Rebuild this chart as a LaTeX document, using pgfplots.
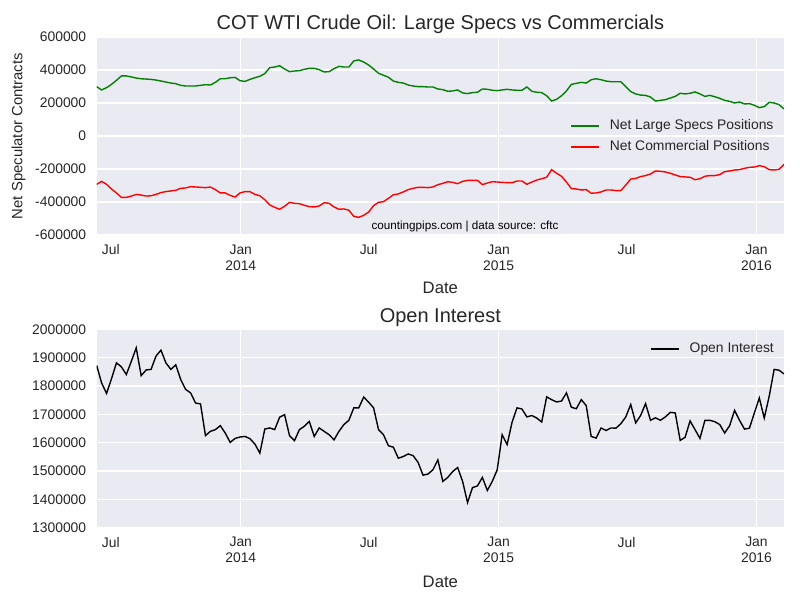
\documentclass[border=0pt]{standalone}
\usepackage{pgfplots}
\pgfplotsset{compat=1.18}
\usepackage{pgfplotstable}
\usepackage{fontspec}
\setmainfont{Liberation Sans}
\definecolor{sbbg}{RGB}{234,234,242}
\definecolor{sbtext}{RGB}{38,38,38}
\definecolor{mplgreen}{RGB}{0,128,0}

\pgfplotstableread{
w specs comm oi
0 299000 -293000 1873000
1 279000 -275000 1811000
2 293000 -293000 1774000
3 313000 -321000 1826000
4 337000 -345000 1882000
5 364000 -372000 1868000
6 364000 -372000 1841000
7 358000 -364000 1887000
8 351000 -354000 1935000
9 347000 -358000 1837000
10 345000 -364000 1857000
11 343000 -362000 1859000
12 339000 -354000 1906000
13 333000 -343000 1927000
14 327000 -337000 1882000
15 321000 -333000 1859000
16 317000 -329000 1875000
17 307000 -317000 1823000
18 303000 -315000 1788000
19 303000 -307000 1776000
20 303000 -309000 1740000
21 307000 -311000 1737000
22 311000 -313000 1625000
23 309000 -309000 1640000
24 325000 -325000 1646000
25 347000 -345000 1660000
26 347000 -345000 1634000
27 353000 -360000 1601000
28 355000 -370000 1615000
29 335000 -345000 1620000
30 331000 -337000 1622000
31 343000 -337000 1614000
32 353000 -354000 1595000
33 362000 -362000 1563000
34 378000 -386000 1648000
35 414000 -418000 1652000
36 418000 -432000 1646000
37 426000 -444000 1690000
38 406000 -426000 1699000
39 390000 -402000 1625000
40 394000 -408000 1607000
41 396000 -410000 1646000
42 404000 -420000 1658000
43 410000 -428000 1675000
44 410000 -430000 1622000
45 402000 -424000 1652000
46 388000 -404000 1640000
47 390000 -408000 1628000
48 408000 -430000 1610000
49 422000 -444000 1640000
50 418000 -442000 1664000
51 418000 -450000 1679000
52 455000 -487000 1723000
53 461000 -493000 1723000
54 448000 -481000 1761000
55 430000 -461000 1743000
56 406000 -422000 1723000
57 380000 -402000 1646000
58 368000 -398000 1628000
59 356000 -378000 1589000
60 333000 -356000 1584000
61 325000 -351000 1545000
62 321000 -339000 1551000
63 309000 -325000 1560000
64 303000 -317000 1554000
65 299000 -311000 1530000
66 299000 -311000 1485000
67 297000 -313000 1489000
68 297000 -309000 1504000
69 285000 -295000 1539000
70 281000 -287000 1463000
71 271000 -277000 1477000
72 273000 -281000 1498000
73 279000 -289000 1512000
74 261000 -275000 1463000
75 257000 -269000 1388000
76 263000 -269000 1441000
77 265000 -269000 1447000
78 285000 -295000 1477000
79 283000 -285000 1431000
80 277000 -277000 1463000
81 275000 -279000 1504000
82 279000 -281000 1628000
83 283000 -283000 1593000
84 279000 -283000 1672000
85 277000 -273000 1723000
86 277000 -273000 1719000
87 297000 -293000 1691000
88 271000 -279000 1696000
89 265000 -267000 1687000
90 263000 -259000 1673000
91 244000 -250000 1762000
92 212000 -204000 1752000
93 222000 -226000 1744000
94 244000 -244000 1747000
95 273000 -279000 1776000
96 313000 -319000 1725000
97 319000 -321000 1720000
98 325000 -327000 1752000
99 321000 -325000 1731000
100 341000 -347000 1622000
101 347000 -345000 1616000
102 341000 -339000 1652000
103 333000 -327000 1643000
104 329000 -327000 1652000
105 329000 -331000 1651000
106 329000 -331000 1667000
107 299000 -297000 1691000
108 269000 -261000 1735000
109 255000 -257000 1670000
110 248000 -246000 1696000
111 246000 -240000 1738000
112 236000 -230000 1679000
113 212000 -212000 1688000
114 216000 -214000 1679000
115 220000 -218000 1691000
116 230000 -226000 1707000
117 240000 -236000 1705000
118 259000 -246000 1608000
119 255000 -248000 1619000
120 259000 -250000 1677000
121 267000 -265000 1646000
122 255000 -259000 1615000
123 240000 -244000 1679000
124 246000 -240000 1679000
125 238000 -240000 1674000
126 228000 -234000 1664000
127 216000 -216000 1634000
128 210000 -212000 1660000
129 200000 -206000 1714000
130 206000 -204000 1679000
131 194000 -196000 1648000
132 196000 -190000 1651000
133 186000 -188000 1705000
134 172000 -180000 1758000
135 178000 -186000 1687000
136 204000 -204000 1764000
137 200000 -206000 1859000
138 190000 -202000 1856000
139 164000 -172000 1843000
}\data

\pgfplotsset{
  sb/.style={
    scale only axis, width=494.9pt, height=142.56pt,
    axis background/.style={fill=sbbg},
    axis line style={draw=none},
    major tick length=0pt, minor tick length=0pt,
    ymajorgrids, grid style={white, line width=0.9pt},
    xmin=0, xmax=139,
    scaled ticks=false,
    xtick={2.857,29.14,55,81.29,107.14,133.43},
    xticklabels={Jul,Jan\\2014,Jul,Jan\\2015,Jul,Jan\\2016},
    extra x ticks={29.14,81.29,133.43},
    extra x tick labels={},
    extra x tick style={grid=major},
    xticklabel style={align=center, font=\fontsize{10}{11.5}\selectfont, text=sbtext, yshift=-3.5pt},
    yticklabel style={font=\fontsize{10}{12}\selectfont, text=sbtext, xshift=-4pt},
    every axis x label/.style={at={(axis description cs:0.5,-0.268)}, anchor=center, font=\fontsize{12}{14}\selectfont, text=sbtext},
    every axis y label/.style={at={(axis description cs:-0.1135,0.5)}, rotate=90, anchor=center, font=\fontsize{10.7}{13}\selectfont, text=sbtext},
    every axis title/.style={anchor=center, font=\fontsize{14.4}{17}\selectfont, text=sbtext},
    legend image code/.code={\draw[#1, line width=1.4pt] (0pt,0pt) -- (20pt,0pt);},
    legend cell align=left,
    legend style={draw=none, fill=none, inner sep=0pt, row sep=3.6pt,
      font=\fontsize{10}{12}\selectfont, text=sbtext,
      nodes={inner sep=1pt, text height=7.2pt, text depth=2.2pt},
      /tikz/every odd column/.append style={column sep=6pt}},
  }
}

\begin{document}
\begin{tikzpicture}
\useasboundingbox (0,0) rectangle (576pt,432pt);
\begin{axis}[sb, at={(69.6pt,262.8pt)}, anchor=south west,
  ymin=-600000, ymax=600000,
  ytick={-600000,-400000,-200000,0,200000,400000,600000},
  yticklabels={-600000,-400000,-200000,0,200000,400000,600000},
  title={COT WTI Crude Oil: Large Specs vs Commercials},
  title style={at={(axis description cs:0.5,1.062)}},
  xlabel={Date}, ylabel={Net Speculator Contracts},
  legend style={at={(axis description cs:0.6887,0.59)}, anchor=north west}]
\addplot[mplgreen, line width=1pt] table[x=w, y=specs] {\data};
\addlegendentry{Net Large Specs Positions}
\addplot[red, line width=1pt] table[x=w, y=comm] {\data};
\addlegendentry{Net Commercial Positions}
\node[font=\fontsize{8.4}{10}\selectfont, text=black] at (rel axis cs:0.536,0.045) {countingpips.com | data source: cftc};
\end{axis}
\begin{axis}[sb, at={(69.6pt,52.2pt)}, anchor=south west,
  ymin=1300000, ymax=2000000,
  ytick={1300000,1400000,1500000,1600000,1700000,1800000,1900000,2000000},
  yticklabels={1300000,1400000,1500000,1600000,1700000,1800000,1900000,2000000},
  title={Open Interest},
  title style={at={(axis description cs:0.5,1.058)}},
  xlabel={Date},
  every axis x label/.append style={at={(axis description cs:0.5,-0.272)}},
  legend style={at={(axis description cs:0.805,0.945)}, anchor=north west}]
\addplot[black, line width=1pt] table[x=w, y=oi] {\data};
\addlegendentry{Open Interest}
\end{axis}
\end{tikzpicture}
\end{document}
